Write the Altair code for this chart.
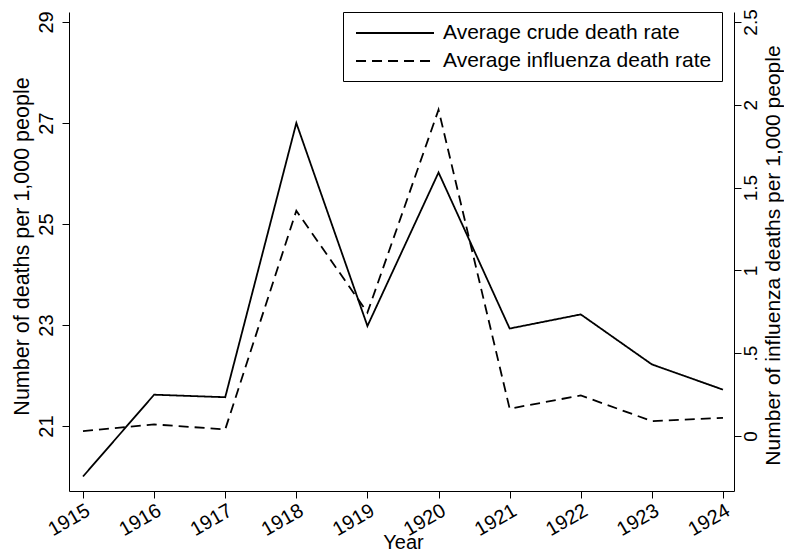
import altair as alt
import pandas as pd

years = [1915, 1916, 1917, 1918, 1919, 1920, 1921, 1922, 1923, 1924]
crude_rate = [20.0, 21.62, 21.57, 27.0, 22.98, 26.02, 22.93, 23.21, 22.22, 21.72]
flu_rate = [0.03, 0.07, 0.04, 1.36, 0.745, 1.97, 0.165, 0.245, 0.09, 0.11]
series_names = ["Average crude death rate", "Average influenza death rate"]
left_ticks = [21, 23, 25, 27, 29]
right_ticks = [0, 0.5, 1, 1.5, 2, 2.5]

df = pd.DataFrame({
    "year": years + years,
    "crude": crude_rate + [None] * len(years),
    "flu": [None] * len(years) + flu_rate,
    "series": [series_names[0]] * len(years) + [series_names[1]] * len(years),
})

FONT = "Liberation Sans"

x_enc = alt.X(
    "year:Q",
    scale=alt.Scale(domain=[1914.803, 1924.155], nice=False, zero=False),
    axis=alt.Axis(
        values=years, format="d", title="Year", labelAngle=330,
        labelAlign="right", labelBaseline="top", labelPadding=2,
        labelFontSize=20, tickSize=7, titleFontSize=20,
        titleBaseline="alphabetic", titleX=334, titleY=57,
    ),
)

dash = alt.StrokeDash(
    "series:N",
    scale=alt.Scale(domain=series_names, range=[[1, 0], [10, 6]]),
    legend=alt.Legend(
        title=None, orient="none", legendX=274, legendY=0,
        symbolType="M-4,0L4,0", symbolSize=380, symbolStrokeWidth=1.8,
        symbolStrokeColor="black", symbolOffset=31, labelFontSize=21,
        labelFont=FONT, labelColor="black", labelOffset=37, padding=10,
        rowPadding=7, strokeColor="black", fillColor="white", labelLimit=400,
        labelExpr="datum.label + '\u00a0\u00a0'",
    ),
)

crude_line = alt.Chart(df).transform_filter(
    alt.datum.series == series_names[0]
).mark_line(color="black", strokeWidth=1.8).encode(
    x=x_enc,
    y=alt.Y(
        "crude:Q",
        scale=alt.Scale(domain=[19.713, 29.198], nice=False, zero=False),
        axis=alt.Axis(
            values=left_ticks, orient="left",
            title="Number of deaths per 1,000 people",
            labelAngle=270, labelAlign="center", labelBaseline="bottom",
            labelPadding=6, tickSize=7, titleAngle=270,
            titleBaseline="alphabetic", titleX=-41, titleY=234,
        ),
    ),
    strokeDash=dash,
)

flu_line = alt.Chart(df).transform_filter(
    alt.datum.series == series_names[1]
).mark_line(color="black", strokeWidth=1.8).encode(
    x=x_enc,
    y=alt.Y(
        "flu:Q",
        scale=alt.Scale(domain=[-0.332, 2.560], nice=False, zero=False),
        axis=alt.Axis(
            values=right_ticks, orient="right",
            title="Number of influenza deaths per 1,000 people",
            labelExpr="datum.value == 0.5 ? '.5' : toString(datum.value)",
            labelAngle=270, labelAlign="center", labelBaseline="top",
            labelPadding=0, labelFontSize=19, tickSize=7, titleAngle=270,
            titleFontSize=21, titleBaseline="alphabetic", titleX=45,
            titleY=243,
        ),
    ),
    strokeDash=dash,
)

chart = alt.layer(crude_line, flu_line).resolve_scale(
    y="independent"
).properties(
    width=665, height=479,
    autosize=alt.AutoSizeParams(type="none"),
    padding={"left": 61, "top": 4, "right": 50, "bottom": 61},
    background="white",
).configure_view(
    stroke=None
).configure_axis(
    grid=False, domainColor="black", tickColor="black", labelColor="black",
    titleColor="black", labelFont=FONT, titleFont=FONT, labelFontSize=20,
    titleFontSize=21.5, titleFontWeight="normal", domainWidth=1, tickWidth=1,
)

chart.save("out.html", embed_options={"renderer": "svg", "actions": False})
